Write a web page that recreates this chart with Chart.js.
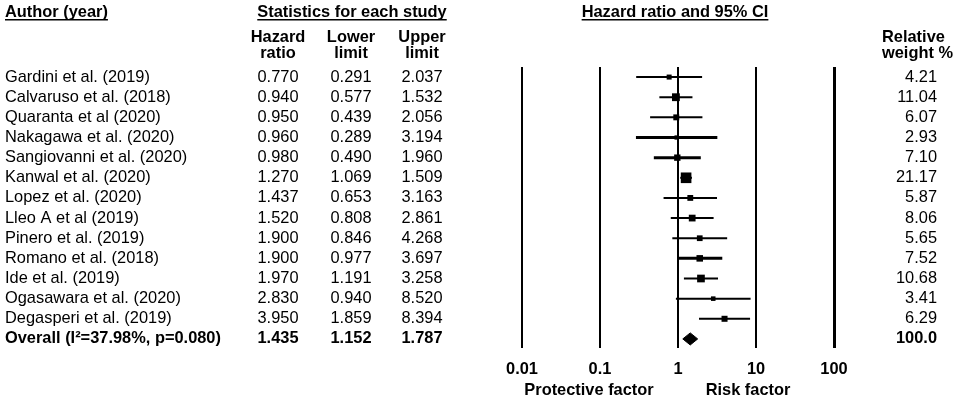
<!DOCTYPE html>
<html>
<head>
<meta charset="utf-8">
<script src="https://cdn.jsdelivr.net/npm/chart.js@4/dist/chart.umd.min.js"></script>
<style>
  html, body { margin: 0; padding: 0; background: #fff; }
  #forest { display: block; }
</style>
</head>
<body>
<canvas id="forest" width="957" height="399"></canvas>
<script>
// studies, top to bottom
const authors = [
    'Gardini et al. (2019)', 'Calvaruso et al. (2018)', 'Quaranta et al (2020)',
    'Nakagawa et al. (2020)', 'Sangiovanni et al. (2020)', 'Kanwal et al. (2020)',
    'Lopez et al. (2020)', 'Lleo A et al (2019)', 'Pinero et al. (2019)',
    'Romano et al. (2018)', 'Ide et al. (2019)', 'Ogasawara et al. (2020)',
    'Degasperi et al. (2019)'
];
const hazardRatio = [0.770, 0.940, 0.950, 0.960, 0.980, 1.270, 1.437, 1.520, 1.900, 1.900, 1.970, 2.830, 3.950];
const lowerLimit  = [0.291, 0.577, 0.439, 0.289, 0.490, 1.069, 0.653, 0.808, 0.846, 0.977, 1.191, 0.940, 1.859];
const upperLimit  = [2.037, 1.532, 2.056, 3.194, 1.960, 1.509, 3.163, 2.861, 4.268, 3.697, 3.258, 8.520, 8.394];
const weights     = [4.21, 11.04, 6.07, 2.93, 7.10, 21.17, 5.87, 8.06, 5.65, 7.52, 10.68, 3.41, 6.29];

const overallLabel = 'Overall (I\u00b2=37.98%, p=0.080)';
const overallHR = 1.435;
const overallLower = 1.152;
const overallUpper = 1.787;
const overallWeight = 100.0;

const axisTicks = [0.01, 0.1, 1, 10, 100];

// whisker thickness as drawn in the original
const whiskerWidths = [2, 2, 2, 3, 3, 2, 2, 2, 2, 3, 2, 2, 2];

const FONT = '"Liberation Sans", Arial, sans-serif';
Chart.defaults.font.family = FONT;
Chart.defaults.color = '#000';

const overallRow = authors.length;

const whiskers = authors.map((a, i) => ({
    type: 'scatter',
    showLine: true,
    data: [{x: lowerLimit[i], y: i}, {x: upperLimit[i], y: i}],
    borderColor: '#000',
    borderWidth: whiskerWidths[i],
    pointRadius: 0,
}));

// square side grows with the study weight
const squares = {
    type: 'scatter',
    data: hazardRatio.map((v, i) => ({x: v, y: i})),
    pointStyle: 'rect',
    backgroundColor: '#000',
    borderWidth: 0,
    pointRadius: ctx => (2.2 * Math.sqrt(weights[ctx.dataIndex]) + 0.5) / Math.SQRT2,
};

// summary diamond spans the pooled CI
const diamond = {
    type: 'scatter',
    showLine: true,
    data: [
        {x: overallLower, y: overallRow},
        {x: overallHR, y: overallRow - 0.3},
        {x: overallUpper, y: overallRow},
        {x: overallHR, y: overallRow + 0.3},
        {x: overallLower, y: overallRow},
    ],
    borderColor: '#000',
    backgroundColor: '#000',
    borderWidth: 1,
    pointRadius: 0,
    fill: 'shape',
};

function txt(ctx, s, x, y, align, font, underline) {
    ctx.font = font;
    ctx.textAlign = align;
    ctx.fillText(s, x, y);
    if (underline) {
        const w = ctx.measureText(s).width;
        const x0 = align === 'center' ? x - w / 2 : (align === 'right' ? x - w : x);
        ctx.fillRect(x0, y + 7, w, 1.5);
    }
}

const tablePlugin = {
    id: 'table',
    afterDraw(chart) {
        const ctx = chart.ctx;
        const ys = chart.scales.y;
        const reg = '16.4px ' + FONT;
        const bold = 'bold 16.4px ' + FONT;
        ctx.save();
        ctx.fillStyle = '#000';
        ctx.textBaseline = 'middle';

        txt(ctx, 'Author (year)', 5, 12, 'left', bold, true);
        txt(ctx, 'Statistics for each study', 352, 12, 'center', bold, true);
        txt(ctx, 'Hazard ratio and 95% CI', 675, 12, 'center', bold, true);

        txt(ctx, 'Hazard', 278, 37, 'center', bold);
        txt(ctx, 'ratio', 278, 53, 'center', bold);
        txt(ctx, 'Lower', 351, 37, 'center', bold);
        txt(ctx, 'limit', 351, 53, 'center', bold);
        txt(ctx, 'Upper', 422, 37, 'center', bold);
        txt(ctx, 'limit', 422, 53, 'center', bold);
        txt(ctx, 'Relative', 882, 37, 'left', bold);
        txt(ctx, 'weight %', 882, 53, 'left', bold);

        authors.forEach((a, i) => {
            const y = ys.getPixelForValue(i);
            txt(ctx, a, 5, y, 'left', reg);
            txt(ctx, hazardRatio[i].toFixed(3), 278, y, 'center', reg);
            txt(ctx, lowerLimit[i].toFixed(3), 351, y, 'center', reg);
            txt(ctx, upperLimit[i].toFixed(3), 422, y, 'center', reg);
            txt(ctx, weights[i].toFixed(2), 937, y, 'right', reg);
        });

        const yo = ys.getPixelForValue(overallRow);
        txt(ctx, overallLabel, 5, yo, 'left', bold);
        txt(ctx, overallHR.toFixed(3), 278, yo, 'center', bold);
        txt(ctx, overallLower.toFixed(3), 351, yo, 'center', bold);
        txt(ctx, overallUpper.toFixed(3), 422, yo, 'center', bold);
        txt(ctx, overallWeight.toFixed(1), 937, yo, 'right', bold);

        txt(ctx, 'Protective factor', 589, 390, 'center', bold);
        txt(ctx, 'Risk factor', 748, 390, 'center', bold);
        ctx.restore();
    }
};

new Chart(document.getElementById('forest'), {
    type: 'scatter',
    data: { datasets: [...whiskers, squares, diamond] },
    options: {
        responsive: false,
        animation: false,
        devicePixelRatio: 1,
        layout: { padding: { left: 522, right: 123, top: 67, bottom: 0 } },
        scales: {
            x: {
                type: 'logarithmic',
                min: 0.01,
                max: 100,
                afterBuildTicks: s => { s.ticks = axisTicks.map(v => ({value: v})); },
                afterFit: s => { s.height = 51; },
                border: { display: false },
                grid: {
                    color: '#000',
                    lineWidth: c => (c.tick && c.tick.value === 100 ? 3 : 2),
                    drawTicks: false,
                },
                ticks: {
                    padding: 11.5,
                    maxRotation: 0,
                    autoSkip: false,
                    font: { size: 16.4, weight: 'bold' },
                    callback: v => String(v),
                },
            },
            y: {
                type: 'linear',
                min: -0.5,
                max: 13.45,
                reverse: true,
                display: false,
            },
        },
        plugins: {
            legend: { display: false },
            tooltip: { enabled: false },
        },
    },
    plugins: [tablePlugin],
});
</script>
</body>
</html>
